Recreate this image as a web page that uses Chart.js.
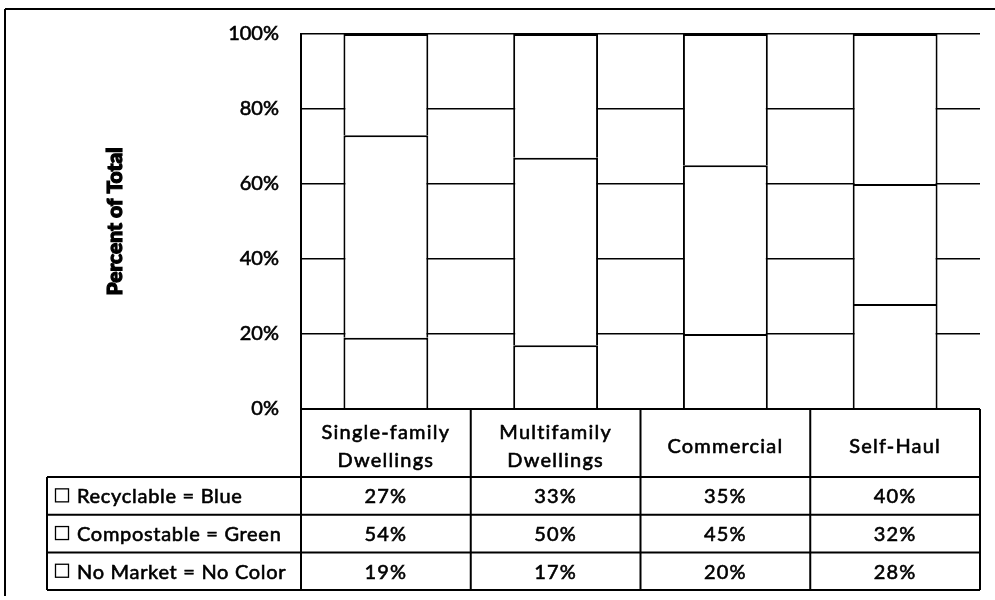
<!DOCTYPE html>
<html>
<head>
<meta charset="utf-8">
<script src="https://cdn.jsdelivr.net/npm/chart.js@4.4.0/dist/chart.umd.min.js"></script>
<style>
  html, body { margin: 0; padding: 0; background: #fff; }
  #wrap { width: 995px; height: 600px; }
</style>
</head>
<body>
<div id="wrap"><canvas id="c" width="995" height="600"></canvas></div>
<script>
// ---- Data ----
const categories = [["Single-family", "Dwellings"], ["Multifamily", "Dwellings"], ["Commercial"], ["Self-Haul"]];
const recyclable = [27, 33, 35, 40];
const compostable = [54, 50, 45, 32];
const noMarket = [19, 17, 20, 28];
const seriesNames = ["Recyclable = Blue", "Compostable = Green", "No Market = No Color"];
const yTicks = [0, 20, 40, 60, 80, 100];
const yTitle = "Percent of Total";

const FONT = "Lato, 'Open Sans', sans-serif";

function drawText(ctx, t, x, y) {
  ctx.fillText(t, x, y);
  ctx.strokeText(t, x, y);
}

const tablePlugin = {
  id: 'dataTable',
  afterDraw(chart) {
    const ctx = chart.ctx;
    const ca = chart.chartArea;
    const xs = chart.scales.x;
    const n = categories.length;
    const colW = (ca.right - ca.left) / n;
    const headTop = ca.bottom;
    const headBot = headTop + 68;
    const rowH = 37.7;
    const legLeft = 47;
    const rows = [
      { name: seriesNames[0], vals: recyclable },
      { name: seriesNames[1], vals: compostable },
      { name: seriesNames[2], vals: noMarket }
    ];
    ctx.save();
    ctx.strokeStyle = '#000';
    ctx.lineWidth = 2;
    // outer frame (top + left)
    ctx.beginPath();
    ctx.moveTo(5, 9); ctx.lineTo(995, 9);
    ctx.moveTo(5, 9); ctx.lineTo(5, 596);
    ctx.stroke();

    // table grid
    ctx.beginPath();
    ctx.moveTo(ca.left, headTop); ctx.lineTo(ca.right, headTop);
    ctx.moveTo(legLeft, headBot); ctx.lineTo(ca.right, headBot);
    for (let r = 1; r <= rows.length; r++) {
      const y = headBot + r * rowH;
      ctx.moveTo(legLeft, y); ctx.lineTo(ca.right, y);
    }
    const tableBot = headBot + rows.length * rowH;
    ctx.moveTo(legLeft, headBot); ctx.lineTo(legLeft, tableBot);
    for (let i = 0; i <= n; i++) {
      const cx = i < n ? xs.getPixelForValue(i) - colW / 2 : xs.getPixelForValue(n - 1) + colW / 2;
      ctx.moveTo(cx, headTop); ctx.lineTo(cx, tableBot);
    }
    ctx.stroke();

    // y-axis title (bold, rotated)
    ctx.save();
    ctx.font = '900 21px ' + FONT;
    ctx.fillStyle = '#000';
    ctx.strokeStyle = '#000';
    ctx.lineWidth = 1.2;
    ctx.textAlign = 'center';
    ctx.textBaseline = 'middle';
    ctx.translate(115, (ca.top + ca.bottom) / 2);
    ctx.rotate(-Math.PI / 2);
    ctx.fillText(yTitle, 0, 0);
    ctx.strokeText(yTitle, 0, 0);
    ctx.restore();

    ctx.fillStyle = '#000';
    ctx.textAlign = 'center';
    ctx.textBaseline = 'middle';
    ctx.font = '20px ' + FONT;
    try { ctx.letterSpacing = '1.2px'; } catch (e) {}
    ctx.lineWidth = 0.6;
    // header labels
    categories.forEach((lab, i) => {
      const cx = xs.getPixelForValue(i);
      const lines = Array.isArray(lab) ? lab : [lab];
      const lh = 28;
      const mid = (headTop + headBot) / 2 + 4;
      lines.forEach((t, k) => {
        drawText(ctx, t, cx, mid + (k - (lines.length - 1) / 2) * lh);
      });
    });
    // rows
    rows.forEach((row, r) => {
      const cy = headBot + r * rowH + rowH / 2 + 1;
      ctx.textAlign = 'center';
      ctx.lineWidth = 0.6;
      try { ctx.letterSpacing = '1.2px'; } catch (e) {}
      row.vals.forEach((v, i) => {
        drawText(ctx, v + '%', xs.getPixelForValue(i), cy);
      });
      ctx.textAlign = 'left';
      try { ctx.letterSpacing = '0.7px'; } catch (e) {}
      drawText(ctx, row.name, 77, cy);
      // legend key
      ctx.lineWidth = 1.3;
      ctx.strokeRect(55.5, cy - 8, 13, 13);
    });
    ctx.restore();
  }
};

new Chart(document.getElementById('c'), {
  type: 'bar',
  data: {
    labels: categories,
    datasets: [
      { label: seriesNames[2], data: noMarket, backgroundColor: '#fff', borderColor: '#000', borderWidth: 2 },
      { label: seriesNames[1], data: compostable, backgroundColor: '#fff', borderColor: '#000', borderWidth: 2 },
      { label: seriesNames[0], data: recyclable, backgroundColor: '#fff', borderColor: '#000', borderWidth: 2 }
    ]
  },
  options: {
    responsive: false,
    animation: false,
    devicePixelRatio: 1,
    layout: { padding: { top: 33, right: 15, bottom: 191, left: 98 } },
    datasets: { bar: { categoryPercentage: 1.0, barPercentage: 0.5 } },
    plugins: { legend: { display: false }, tooltip: { enabled: false } },
    scales: {
      x: { stacked: true, display: false },
      y: {
        stacked: true,
        min: 0, max: 100,
        afterFit(scale) { scale.width = 203; },
        afterBuildTicks(scale) { scale.ticks = yTicks.map(v => ({ value: v })); },
        ticks: {
          color: '#000',
          padding: 22,
          font: { family: FONT, size: 20 },
          textStrokeColor: '#000',
          textStrokeWidth: 0.6,
          callback: v => v + '%'
        },
        grid: { color: '#000', lineWidth: 1.6, drawTicks: false },
        border: { display: true, color: '#000', width: 2 },
        title: {
          display: true,
          text: yTitle,
          color: 'rgba(0,0,0,0)',
          font: { family: FONT, size: 21, weight: 'bold' },
          padding: { top: 4, bottom: 4 }
        }
      }
    }
  },
  plugins: [tablePlugin]
});
</script>
</body>
</html>
